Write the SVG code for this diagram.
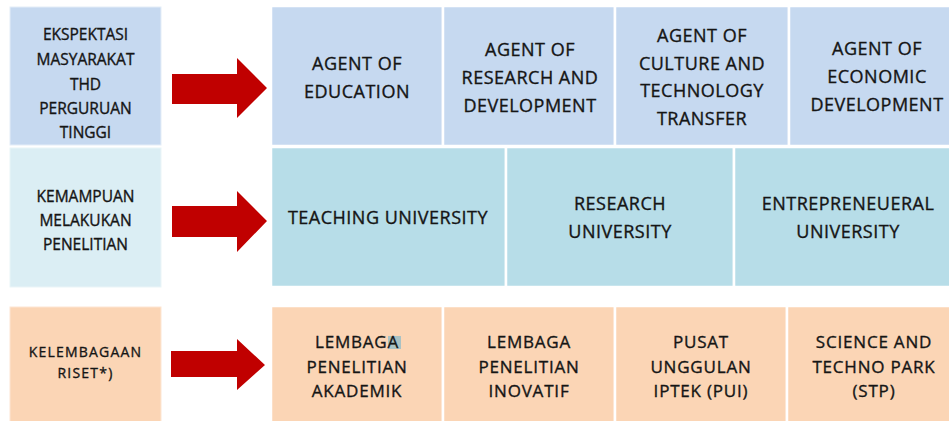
<svg xmlns="http://www.w3.org/2000/svg" width="949" height="421" viewBox="0 0 949 421">
<style>
.t{font-family:"Open Sans","Liberation Sans",sans-serif;fill:#151515;text-anchor:middle;stroke:#151515;stroke-width:0.35}
.l{font-size:15.5px}
.r{font-size:18px;letter-spacing:0.5px}
.s{font-size:17px;letter-spacing:0.8px}
.k{font-size:14px;letter-spacing:1.2px}
.b1{fill:#C6D9F0}
.b2{fill:#B7DDE8}
.b2l{fill:#DBEEF4}
.b3{fill:#FBD5B5}
.cell{stroke:#ffffff;stroke-width:2.5}
.arrow{fill:#C00000}
</style>
<rect width="949" height="421" fill="#ffffff"/>
<g id="left-expectation"><rect class="b1" x="10" y="7" width="151" height="138" stroke="#e4edf8" stroke-width="1"/>
<text class="t l"><tspan x="85.5" y="40">EKSPEKTASI</tspan><tspan x="85.5" y="65">MASYARAKAT</tspan><tspan x="85.5" y="90">THD</tspan><tspan x="85.5" y="114">PERGURUAN</tspan><tspan x="85.5" y="138">TINGGI</tspan></text></g>
<g id="left-capability"><rect class="b2l" x="10" y="148" width="151" height="139" stroke="#eaf5f8" stroke-width="1"/>
<text class="t l"><tspan x="85.5" y="202">KEMAMPUAN</tspan><tspan x="85.5" y="226">MELAKUKAN</tspan><tspan x="85.5" y="250">PENELITIAN</tspan></text></g>
<g id="left-institution"><rect class="b3" x="10" y="307" width="151" height="116" stroke="#fde6d3" stroke-width="1"/>
<text class="t k"><tspan x="85.5" y="357">KELEMBAGAAN</tspan><tspan x="85.5" y="378">RISET*)</tspan></text></g>

<g id="agent-education"><rect class="b1 cell" x="271" y="6" width="172" height="140"/>
<text class="t r"><tspan x="357" y="70">AGENT OF</tspan><tspan x="357" y="98">EDUCATION</tspan></text></g>
<g id="agent-research"><rect class="b1 cell" x="443" y="6" width="172" height="140"/>
<text class="t r"><tspan x="530" y="56">AGENT OF</tspan><tspan x="530" y="84">RESEARCH AND</tspan><tspan x="530" y="112">DEVELOPMENT</tspan></text></g>
<g id="agent-culture"><rect class="b1 cell" x="615" y="6" width="174" height="140"/>
<text class="t r"><tspan x="702" y="42">AGENT OF</tspan><tspan x="702" y="70">CULTURE AND</tspan><tspan x="702" y="97">TECHNOLOGY</tspan><tspan x="702" y="125">TRANSFER</tspan></text></g>
<g id="agent-economic"><rect class="b1 cell" x="789" y="6" width="175" height="140"/>
<text class="t r"><tspan x="877" y="55">AGENT OF</tspan><tspan x="877" y="83">ECONOMIC</tspan><tspan x="877" y="111">DEVELOPMENT</tspan></text></g>

<g id="teaching-university"><rect class="b2 cell" x="271" y="147" width="235" height="140"/>
<text class="t r" x="388" y="224">TEACHING UNIVERSITY</text></g>
<g id="research-university"><rect class="b2 cell" x="506" y="147" width="228" height="140"/>
<text class="t r"><tspan x="620" y="210">RESEARCH</tspan><tspan x="620" y="238">UNIVERSITY</tspan></text></g>
<g id="entrepreneurial-university"><rect class="b2 cell" x="734" y="147" width="230" height="140"/>
<text class="t r"><tspan x="848" y="210">ENTREPRENEUERAL</tspan><tspan x="848" y="238">UNIVERSITY</tspan></text></g>

<g id="lembaga-akademik"><rect class="b3 cell" x="271" y="306" width="172" height="120"/>
<rect x="388" y="336" width="13" height="13" fill="#A9C2C4"/>
<text class="t s"><tspan x="357" y="348">LEMBAGA</tspan><tspan x="357" y="373">PENELITIAN</tspan><tspan x="357" y="397">AKADEMIK</tspan></text></g>
<g id="lembaga-inovatif"><rect class="b3 cell" x="443" y="306" width="172" height="120"/>
<text class="t s"><tspan x="529" y="348">LEMBAGA</tspan><tspan x="529" y="373">PENELITIAN</tspan><tspan x="529" y="397">INOVATIF</tspan></text></g>
<g id="pusat-unggulan"><rect class="b3 cell" x="615" y="306" width="172" height="120"/>
<text class="t s"><tspan x="701" y="348">PUSAT</tspan><tspan x="701" y="373">UNGGULAN</tspan><tspan x="701" y="397">IPTEK (PUI)</tspan></text></g>
<g id="science-techno-park"><rect class="b3 cell" x="787" y="306" width="177" height="120"/>
<text class="t s"><tspan x="874" y="348">SCIENCE AND</tspan><tspan x="874" y="373">TECHNO PARK</tspan><tspan x="874" y="397">(STP)</tspan></text></g>

<g id="connectors">
<polygon class="arrow" points="172,74 237,74 237,58 267,88 237,118 237,104 172,104"/>
<polygon class="arrow" points="172,206 237,206 237,191 267,221 237,252 237,237 172,237"/>
<polygon class="arrow" points="171,351 237,351 237,339 265,365 237,390 237,377 171,377"/>
</g>
</svg>
